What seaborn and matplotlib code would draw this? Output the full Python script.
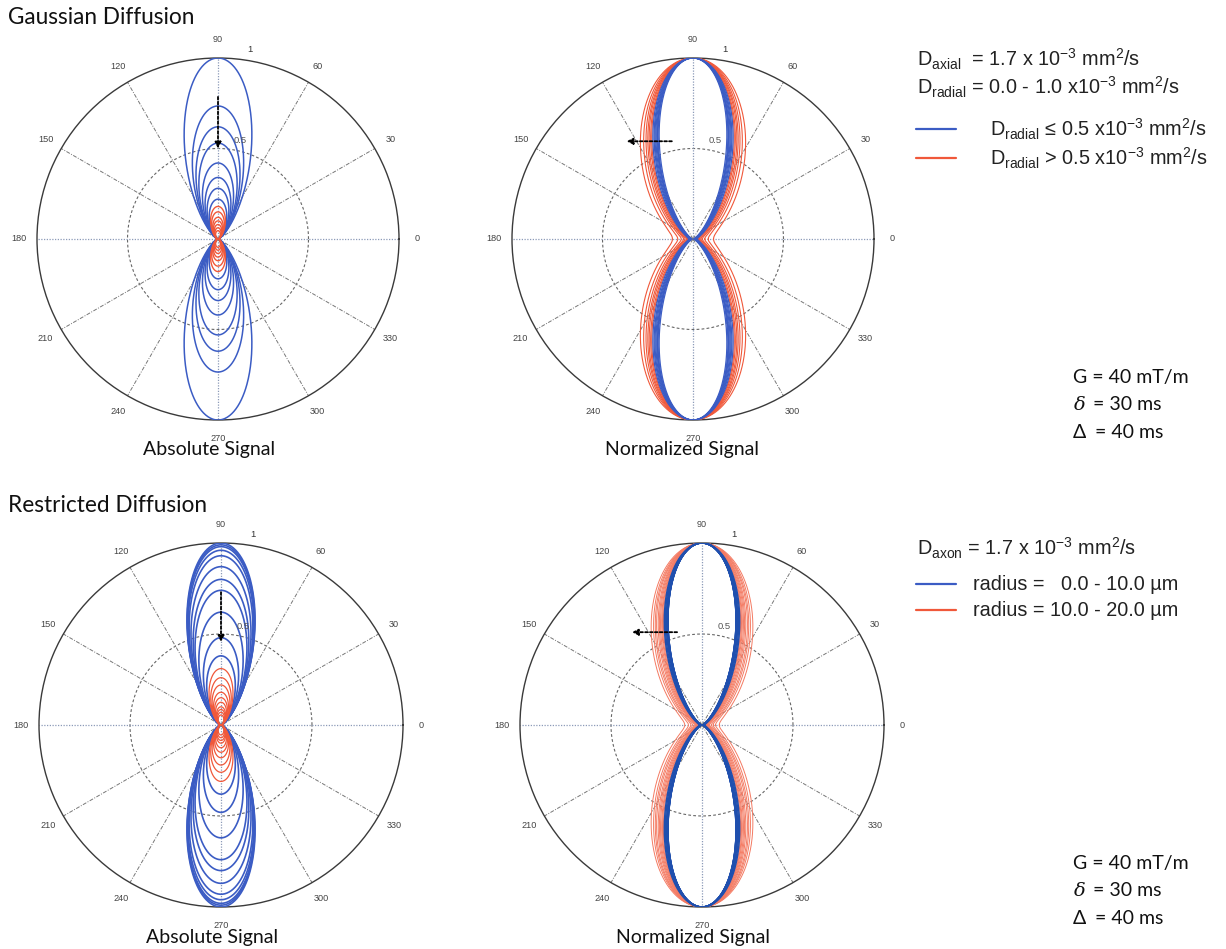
import numpy as np
import matplotlib
matplotlib.use("Agg")
import matplotlib.pyplot as plt
from matplotlib.lines import Line2D
import seaborn as sns

# ---- acquisition / tissue parameters (as printed on the figure) ----
G_mT_per_m = 40.0
small_delta_ms = 30.0
big_delta_ms = 40.0
D_axial = 1.7e-3          # mm^2/s (also D_axon)
GAMMA = 2.675e8           # rad s^-1 T^-1

# ---- peak signal along 90 deg for each simulated curve ----
gauss_blue_peaks = [1.00, 0.735, 0.62, 0.53, 0.42, 0.34, 0.28, 0.22]
gauss_red_peaks = [0.18, 0.15, 0.12, 0.10, 0.08, 0.062, 0.046]
restr_blue_peaks = [1.00, 0.99, 0.98, 0.96, 0.93, 0.87, 0.80, 0.74, 0.62, 0.48, 0.38]
restr_red_peaks = [0.31, 0.26, 0.22, 0.18, 0.15, 0.125, 0.10, 0.085, 0.07, 0.055]

angle_ticks = list(range(0, 360, 30))
angle_labels = [str(a) for a in angle_ticks]
ring_values = [0.5, 1.0]
ring_labels = ["0.5", "1"]

BLUE = "#3b5cc4"
BLUE_DARK = "#1f4fae"
RED = "#f0583a"

sns.set_theme(style="white")
plt.rcParams["font.family"] = ["Liberation Sans", "DejaVu Sans"]
plt.rcParams["mathtext.fontset"] = "custom"
plt.rcParams["mathtext.rm"] = "Liberation Sans"
plt.rcParams["mathtext.it"] = "Liberation Sans:italic"
plt.rcParams["mathtext.bf"] = "Liberation Sans:bold"

W, H = 1226, 949
fig = plt.figure(figsize=(W / 100, H / 100), dpi=100)
fig.patch.set_facecolor("white")


def fx(x):
    return x / W


def fy(y):
    return 1 - y / H


# b-value (s/mm^2) and attenuation along the fibre axis
G = G_mT_per_m * 1e-3
d = small_delta_ms * 1e-3
D_ = big_delta_ms * 1e-3
b_value = GAMMA ** 2 * G ** 2 * d ** 2 * (D_ - d / 3) / 1e6
E_axial = np.exp(-b_value * D_axial)

theta = np.linspace(0, 2 * np.pi, 1441)
sin2 = np.sin(theta) ** 2
cos2 = np.cos(theta) ** 2


def absolute_curve(peak):
    return peak ** sin2 * E_axial ** cos2


def normalized_curve(peak):
    return (E_axial / peak) ** cos2


def make_polar(cx, cy, r):
    ax = fig.add_axes([fx(cx - r), fy(cy + r), 2 * r / W, 2 * r / H], projection="polar")
    ax.set_facecolor("white")
    ax.grid(False)
    ax.set_yticks([])
    ax.set_xticks(np.deg2rad(angle_ticks))
    ax.set_xticklabels(angle_labels, fontsize=6.6, color="#444")
    ax.tick_params(axis="x", pad=6, length=0)
    ax.spines["polar"].set_color("#3a3a3a")
    ax.spines["polar"].set_linewidth(1.0)
    # guide lines
    full = np.linspace(0, 2 * np.pi, 361)
    ax.plot(full, np.full_like(full, ring_values[0]), color="#666", lw=0.8,
            dashes=(2.5, 2), zorder=1)
    for a in angle_ticks:
        t = np.deg2rad(a)
        if a % 90 == 0:
            ax.plot([t, t], [0, 1], color="#8c9bb8", lw=0.9, dashes=(1, 1.2), zorder=1)
        else:
            ax.plot([t, t], [0, 1], color="#777", lw=0.7,
                    dashes=(4, 1.5, 1, 1.5), zorder=1)
    ax.text(np.deg2rad(80.5), 1.06, ring_labels[1], fontsize=6.8, color="#333",
            ha="center", va="center", zorder=7)
    ax.text(np.deg2rad(77.5), 0.555, ring_labels[0], fontsize=6.8, color="#555",
            ha="center", va="center", zorder=7)
    return ax


def draw(ax, peaks, fn, color, lw, z):
    for p in peaks:
        sns.lineplot(x=theta, y=fn(p), ax=ax, color=color, lw=lw, sort=False,
                     estimator=None, zorder=z)


def arrow(ax, x0, y0, x1, y1):
    ax.annotate("", xy=(np.arctan2(y1, x1), np.hypot(x1, y1)),
                xytext=(np.arctan2(y0, x0), np.hypot(x0, y0)),
                arrowprops=dict(arrowstyle="-|>", color="black", lw=1.3,
                                linestyle=(0, (1.5, 1.2)), mutation_scale=9,
                                shrinkA=0, shrinkB=0), zorder=6)


def finish(ax):
    ax.set_xlabel("")
    ax.set_ylabel("")
    ax.set_ylim(0, 1)


# ---- Gaussian diffusion ----
ax1 = make_polar(218, 239, 181)
draw(ax1, gauss_blue_peaks, absolute_curve, BLUE, 1.1, 3)
draw(ax1, gauss_red_peaks, absolute_curve, RED, 1.0, 4)
arrow(ax1, 0, 0.785, 0, 0.50)
finish(ax1)

ax2 = make_polar(693, 239, 181)
draw(ax2, gauss_red_peaks, normalized_curve, RED, 0.8, 3)
draw(ax2, gauss_blue_peaks, normalized_curve, BLUE, 0.9, 4)
arrow(ax2, -0.117, 0.54, -0.367, 0.54)
finish(ax2)

# ---- Restricted diffusion ----
ax3 = make_polar(221, 725, 182)
draw(ax3, restr_blue_peaks, absolute_curve, BLUE, 1.2, 3)
draw(ax3, restr_red_peaks, absolute_curve, RED, 0.9, 4)
arrow(ax3, 0, 0.73, 0, 0.456)
finish(ax3)

ax4 = make_polar(702, 725, 182)
draw(ax4, restr_red_peaks, normalized_curve, "#f47a62", 0.7, 3)
draw(ax4, restr_blue_peaks, normalized_curve, BLUE_DARK, 1.1, 4)
arrow(ax4, -0.137, 0.51, -0.385, 0.51)
finish(ax4)

# ---- headings and panel captions ----
head_font = ["Lato", "DejaVu Sans"]
fig.text(fx(8), fy(18), "Gaussian Diffusion", family=head_font, fontsize=16.3,
         ha="left", va="center", color="#111")
fig.text(fx(8), fy(506), "Restricted Diffusion", family=head_font, fontsize=16.3,
         ha="left", va="center", color="#111")
for (x, y, s) in [(209, 449, "Absolute Signal"), (682, 449, "Normalized Signal"),
                  (212, 937, "Absolute Signal"), (693, 937, "Normalized Signal")]:
    fig.text(fx(x), fy(y), s, family=head_font, fontsize=14, ha="center",
             va="center", color="#111")

# ---- parameter annotations ----
reg = r"\mathregular"
txt_kw = dict(fontsize=14.3, ha="left", va="center", color="#222")
fig.text(fx(917), fy(59),
         r"D$_{%s{axial}}$  = 1.7 x 10$^{%s{-3}}$ mm$^{%s{2}}$/s" % (reg, reg, reg), **txt_kw)
fig.text(fx(917), fy(87),
         r"D$_{%s{radial}}$ = 0.0 - 1.0 x10$^{%s{-3}}$ mm$^{%s{2}}$/s" % (reg, reg, reg), **txt_kw)
fig.text(fx(990), fy(129),
         r"D$_{%s{radial}}$ ≤ 0.5 x10$^{%s{-3}}$ mm$^{%s{2}}$/s" % (reg, reg, reg), **txt_kw)
fig.text(fx(990), fy(158),
         r"D$_{%s{radial}}$ > 0.5 x10$^{%s{-3}}$ mm$^{%s{2}}$/s" % (reg, reg, reg), **txt_kw)
fig.text(fx(917), fy(548),
         r"D$_{%s{axon}}$ = 1.7 x 10$^{%s{-3}}$ mm$^{%s{2}}$/s" % (reg, reg, reg), **txt_kw)
fig.text(fx(973), fy(584), "radius =   0.0 - 10.0 µm", **txt_kw)
fig.text(fx(973), fy(610), "radius = 10.0 - 20.0 µm", **txt_kw)

for (y, c) in [(129, BLUE), (158, RED), (584, BLUE), (610, RED)]:
    fig.add_artist(Line2D([fx(916), fx(956)], [fy(y), fy(y)], color=c, lw=1.6,
                          transform=fig.transFigure))

for y0 in (377, 863):
    fig.text(fx(1073), fy(y0), "G = 40 mT/m", family=head_font, fontsize=14,
             ha="left", va="center", color="#111")
    fig.text(fx(1074), fy(y0 + 28), "δ", family=["DejaVu Serif"], style="italic",
             fontsize=14, ha="left", va="center", color="#111")
    fig.text(fx(1093), fy(y0 + 28), "= 30 ms", family=head_font, fontsize=14,
             ha="left", va="center", color="#111")
    fig.text(fx(1073), fy(y0 + 56), "Δ", family=head_font, fontsize=14,
             ha="left", va="center", color="#111")
    fig.text(fx(1095), fy(y0 + 56), "= 40 ms", family=head_font, fontsize=14,
             ha="left", va="center", color="#111")

fig.savefig("out.png", dpi=100, facecolor="white")
